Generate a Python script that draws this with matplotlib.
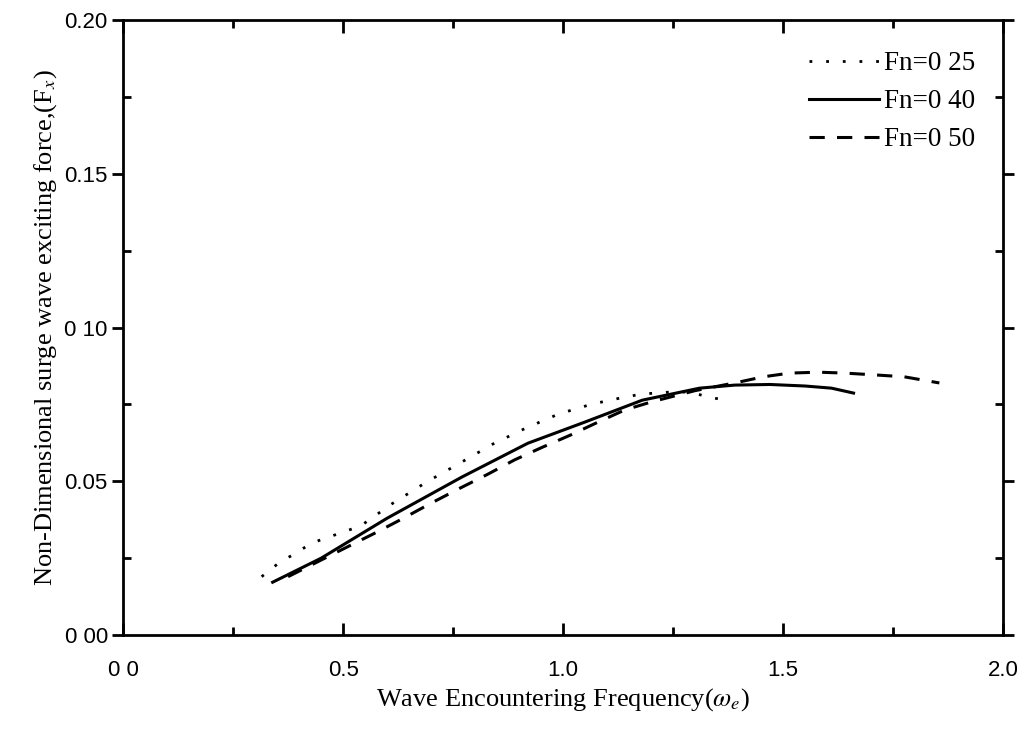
import matplotlib
matplotlib.use("Agg")
from matplotlib import pyplot as plt
from matplotlib.ticker import MultipleLocator

plt.rcParams['mathtext.fontset'] = 'stix'

# Fn = 0.25 (dotted)
x_025 = [0.315, 0.35, 0.43, 0.54, 0.61, 0.69, 0.77, 0.84, 0.915, 0.99, 1.065, 1.14, 1.18, 1.25, 1.29, 1.33, 1.37]
y_025 = [0.019, 0.023, 0.030, 0.0355, 0.0426, 0.0498, 0.0563, 0.0621, 0.0673, 0.0719, 0.0751, 0.0774, 0.0784, 0.0791, 0.079, 0.0774, 0.0764]

# Fn = 0.40 (solid)
x_040 = [0.34, 0.45, 0.60, 0.77, 0.92, 1.05, 1.18, 1.31, 1.39, 1.47, 1.55, 1.61, 1.66]
y_040 = [0.0172, 0.025, 0.038, 0.0514, 0.0624, 0.0693, 0.0764, 0.0803, 0.0813, 0.0815, 0.081, 0.0803, 0.0787]

# Fn = 0.50 (dashed)
x_050 = [0.375, 0.45, 0.577, 0.637, 0.70, 0.766, 0.83, 0.89, 0.953, 1.016, 1.08, 1.14, 1.2, 1.30, 1.40, 1.455, 1.515, 1.58, 1.64, 1.71, 1.775, 1.855]
y_050 = [0.019, 0.0244, 0.0335, 0.038, 0.0429, 0.0478, 0.0524, 0.057, 0.0611, 0.065, 0.0693, 0.0732, 0.0758, 0.0795, 0.0823, 0.084, 0.0852, 0.0855, 0.0852, 0.0846, 0.084, 0.082]

labels = ['Fn=0 25', 'Fn=0 40', 'Fn=0 50']
xticks = [0.0, 0.5, 1.0, 1.5, 2.0]
xtick_labels = ['0 0', '0.5', '1.0', '1.5', '2.0']
yticks = [0.00, 0.05, 0.10, 0.15, 0.20]
ytick_labels = ['0 00', '0.05', '0 10', '0.15', '0.20']

fig = plt.figure(figsize=(10.27, 7.30), dpi=100)
ax = fig.add_axes([0.1198, 0.130, 0.857, 0.8425])

ax.plot(x_025, y_025, color='black', lw=2.0, linestyle=(0, (1, 5)), label=labels[0])
ax.plot(x_040, y_040, color='black', lw=2.2, linestyle='-', label=labels[1])
ax.plot(x_050, y_050, color='black', lw=2.2, linestyle=(0, (5, 4)), label=labels[2])

ax.set_xlim(0, 2.0)
ax.set_ylim(0, 0.20)
ax.set_xticks(xticks)
ax.set_xticklabels(xtick_labels)
ax.set_yticks(yticks)
ax.set_yticklabels(ytick_labels)
ax.xaxis.set_minor_locator(MultipleLocator(0.25))
ax.yaxis.set_minor_locator(MultipleLocator(0.025))

for s in ax.spines.values():
    s.set_linewidth(2)

ax.tick_params(axis='x', which='both', direction='in', top=True, labelsize=16, pad=18)
ax.tick_params(axis='x', which='major', length=9, width=2)
ax.tick_params(axis='x', which='minor', length=6, width=2)
ax.tick_params(axis='y', which='major', direction='out', length=8, width=2, labelsize=16, pad=3)
ax.tick_params(axis='y', which='minor', direction='in', length=6, width=2, right=True)
ax.tick_params(axis='y', which='major', right=True)

for lab in ax.get_xticklabels() + ax.get_yticklabels():
    lab.set_family('Liberation Sans')

ax.set_xlabel(r'Wave Encountering Frequency($\omega_e$)', family='Liberation Serif', fontsize=19, labelpad=4)
ax.set_ylabel(r'Non-Dimensional surge wave exciting force,(F$_x$)', family='Liberation Serif', fontsize=19, labelpad=4)

leg = ax.legend(loc='upper right', bbox_to_anchor=(0.981, 0.967), frameon=False,
                prop={'family': 'Liberation Serif', 'size': 19.5},
                handlelength=2.6, handletextpad=0.2, labelspacing=0.48, borderaxespad=0)

plt.savefig('out.png', dpi=100)
